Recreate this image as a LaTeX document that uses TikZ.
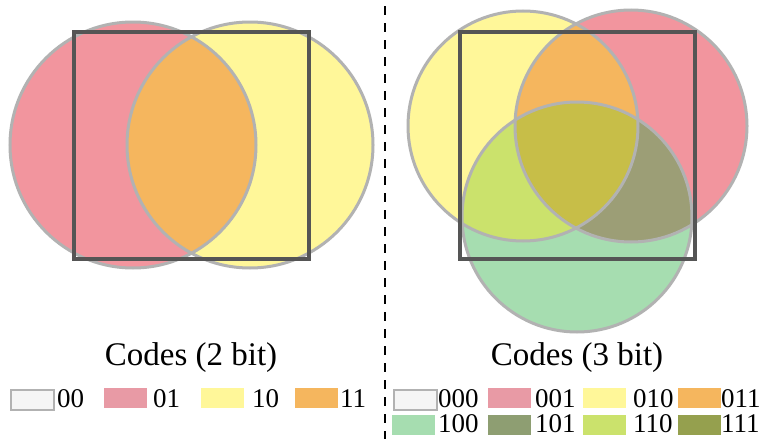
\documentclass[tikz,border=0pt]{standalone}
\usepackage{fontspec}
\setmainfont{Liberation Serif}
\usetikzlibrary{positioning}
\definecolor{cnone}{HTML}{F5F5F5}
\definecolor{cpink}{HTML}{F2959E}
\definecolor{cyel}{HTML}{FFF799}
\definecolor{corange}{HTML}{F5B65E}
\definecolor{cgreen}{HTML}{A6DDB0}
\definecolor{colive}{HTML}{9C9E76}
\definecolor{clime}{HTML}{CBE26C}
\definecolor{cmust}{HTML}{C7BE48}
\definecolor{lpink}{HTML}{E89AA5}
\definecolor{lolive}{HTML}{8E9E72}
\definecolor{lmust}{HTML}{95A04E}
\definecolor{ringgray}{HTML}{B2B2B2}
\definecolor{framegray}{HTML}{555555}

\begin{document}
\begin{tikzpicture}[x=1pt,y=-1pt,
  ring/.style={draw=ringgray,line width=3pt},
  frame/.style={draw=framegray,line width=3.5pt},
  swatch/.style={minimum width=43pt,minimum height=20pt,inner sep=0pt,anchor=north west},
  code/.style={font=\fontsize{27}{27}\selectfont,inner sep=0pt,anchor=base west},
  title/.style={font=\fontsize{33}{33}\selectfont,inner sep=0pt,anchor=base}]
\useasboundingbox (0,0) rectangle (761,439);
\fill[white] (0,0) rectangle (761,439);
% 2 bit
\coordinate (pa) at (133,145);
\coordinate (pb) at (250,145);
\fill[cpink] (pa) circle (123pt);
\fill[cyel] (pb) circle (123pt);
\begin{scope}
\clip (pa) circle (123pt);
\fill[corange] (pb) circle (123pt);
\end{scope}
\draw[ring] (pa) circle (123pt);
\draw[ring] (pb) circle (123pt);
\draw[frame] (74,32) rectangle (309,259);
% 3 bit
\coordinate (qy) at (523,126);
\coordinate (qr) at (631,126);
\coordinate (qg) at (577,217);
\fill[cyel] (qy) circle (115pt);
\fill[cpink] (qr) circle (116pt);
\fill[cgreen] (qg) circle (115pt);
\begin{scope}
\clip (qy) circle (115pt);
\fill[corange] (qr) circle (116pt);
\fill[clime] (qg) circle (115pt);
\end{scope}
\begin{scope}
\clip (qr) circle (116pt);
\fill[colive] (qg) circle (115pt);
\end{scope}
\begin{scope}
\clip (qy) circle (115pt);
\clip (qr) circle (116pt);
\fill[cmust] (qg) circle (115pt);
\end{scope}
\draw[ring] (qy) circle (115pt);
\draw[ring] (qr) circle (116pt);
\draw[ring] (qg) circle (115pt);
\draw[frame] (460,32) rectangle (695,259);
% divider
\draw[dash pattern=on 9pt off 8pt,line width=2pt] (385,6) -- (385,439);
% titles
\node[title] (t2) at (191,365) {Codes (2 bit)};
\node[title] (t3) at (577,365) {Codes (3 bit)};
% legend 2 bit
\node[swatch,fill=cnone,draw=ringgray,line width=1.5pt] (s00) at (10,389) {};
\node[code] (l00) at (57,407) {00};
\node[swatch,fill=lpink] (s01) at (104,388) {};
\node[code] (l01) at (153,407) {01};
\node[swatch,fill=cyel] (s10) at (201,388) {};
\node[code] (l10) at (252,407) {10};
\node[swatch,fill=corange] (s11) at (295,388) {};
\node[code] (l11) at (340,407) {11};
% legend 3 bit
\node[swatch,fill=cnone,draw=ringgray,line width=1.5pt] (s000) at (393,389) {};
\node[code] (l000) at (438,407) {000};
\node[swatch,fill=lpink] (s001) at (488,388) {};
\node[code] (l001) at (535,407) {001};
\node[swatch,fill=cyel] (s010) at (583,388) {};
\node[code] (l010) at (633,407) {010};
\node[swatch,fill=corange] (s011) at (678,388) {};
\node[code] (l011) at (721,407) {011};
\node[swatch,fill=cgreen] (s100) at (392,415) {};
\node[code] (l100) at (438,432) {100};
\node[swatch,fill=lolive] (s101) at (488,415) {};
\node[code] (l101) at (535,432) {101};
\node[swatch,fill=clime] (s110) at (583,415) {};
\node[code] (l110) at (633,432) {110};
\node[swatch,fill=lmust] (s111) at (678,415) {};
\node[code] (l111) at (721,432) {111};
\end{tikzpicture}
\end{document}
